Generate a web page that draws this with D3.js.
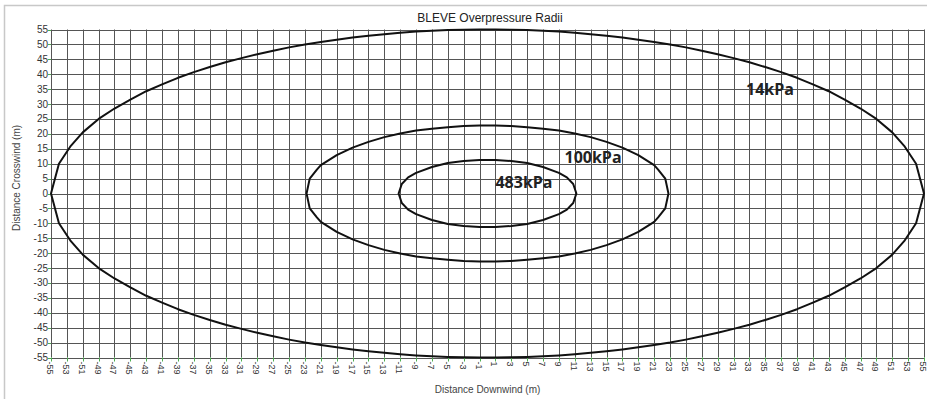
<!DOCTYPE html>
<html>
<head>
<meta charset="utf-8">
<script src="https://cdn.jsdelivr.net/npm/d3@7"></script>
<style>
  body { margin: 0; background: #fff; }
  svg text { font-family: Arial, "Liberation Sans", sans-serif; }
  svg text.clabel { font-family: "Open Sans", sans-serif; font-weight: 700; }
</style>
</head>
<body>
<svg id="chart" width="927" height="399"></svg>
<script>
// upper half of each contour (lower half mirrors it)
const outerX = [-55, -54, -52.5, -51, -49, -47, -45, -43, -41, -39, -37, -35, -33, -31, -29, -27, -25, -23, -21, -19, -17, -15, -13, -11, -9, -7, -5, -3, -1,
                1, 3, 5, 7, 9, 11, 13, 15, 17, 19, 21, 23, 25, 27, 29, 31, 33, 35, 37, 39, 41, 43, 45, 47, 49, 51, 52.5, 54, 55];
const outerY = [0, 10, 16, 20.5, 25, 28.5, 31.5, 34.3, 36.6, 38.8, 40.7, 42.4, 44, 45.4, 46.7, 47.9, 49, 50, 50.8, 51.6, 52.3, 52.9, 53.4, 53.9, 54.3, 54.6, 54.8, 54.9, 55,
                55, 54.9, 54.8, 54.6, 54.3, 53.9, 53.4, 52.9, 52.3, 51.6, 50.8, 50, 49, 47.9, 46.7, 45.4, 44, 42.4, 40.7, 38.8, 36.6, 34.3, 31.5, 28.5, 25, 20.5, 16, 10, 0];

const midX = [-22.8, -22.4, -21.5, -21, -19, -17, -15, -13, -11, -9, -7, -5, -3, -1,
              1, 3, 5, 7, 9, 11, 13, 15, 17, 19, 21, 21.5, 22.4, 22.8];
const midY = [0, 5, 8, 9.5, 12.9, 15.4, 17.3, 18.9, 20.1, 21.1, 21.7, 22.2, 22.6, 22.8,
              22.8, 22.6, 22.2, 21.7, 21.1, 20.1, 18.9, 17.3, 15.4, 12.9, 9.5, 8, 5, 0];

const innerX = [-11.2, -10.8, -10, -9, -7, -5, -3, -1, 1, 3, 5, 7, 9, 10, 10.8, 11.2];
const innerY = [0, 3.2, 5.4, 6.9, 8.9, 10.2, 10.9, 11.2, 11.2, 10.9, 10.2, 8.9, 6.9, 5.4, 3.2, 0];

const contourNames = ["14kPa", "100kPa", "483kPa"];
const labelX = [35.6, 13.3, 4.6];
const labelY = [35.2, 12.1, 4];

const xTicks = d3.range(-55, 56, 2);
const yTicks = d3.range(-55, 56, 5);

const svg = d3.select("#chart");
const plotLeft = 51, plotRight = 924, plotTop = 29.5, plotBottom = 357.5;

const x = d3.scaleLinear().domain([-55, 55]).range([plotLeft, plotRight]);
const y = d3.scaleLinear().domain([-55, 55]).range([plotBottom, plotTop]);

// outer frame
svg.append("path")
  .attr("d", "M4.5,399 V5.5 H927")
  .attr("fill", "none")
  .attr("stroke", "#c8c8c8")
  .attr("stroke-width", 1.5);

// title
svg.append("text")
  .attr("x", 490).attr("y", 22)
  .attr("text-anchor", "middle")
  .attr("font-size", 12)
  .attr("fill", "#222")
  .text("BLEVE Overpressure Radii");

// grid
const grid = svg.append("g").attr("stroke", "#555").attr("stroke-width", 1);
grid.selectAll(".vx").data(xTicks).join("line")
  .attr("x1", d => Math.round(x(d)) + 0.5).attr("x2", d => Math.round(x(d)) + 0.5)
  .attr("y1", plotTop).attr("y2", plotBottom);
grid.selectAll(".hy").data(yTicks).join("line")
  .attr("y1", d => Math.round(y(d)) + 0.5).attr("y2", d => Math.round(y(d)) + 0.5)
  .attr("x1", plotLeft).attr("x2", plotRight);

// ticks
svg.append("g").selectAll("line").data(xTicks).join("line")
  .attr("x1", d => Math.round(x(d)) + 0.5).attr("x2", d => Math.round(x(d)) + 0.5)
  .attr("y1", plotBottom).attr("y2", plotBottom + 4)
  .attr("stroke", "#4caf50");
svg.append("g").selectAll("line").data(yTicks).join("line")
  .attr("y1", d => Math.round(y(d)) + 0.5).attr("y2", d => Math.round(y(d)) + 0.5)
  .attr("x1", plotLeft - 3).attr("x2", plotLeft)
  .attr("stroke", "#4caf50");

// tick labels
svg.append("g").selectAll("text").data(yTicks).join("text")
  .attr("x", plotLeft - 3)
  .attr("y", d => y(d) + 3.5)
  .attr("text-anchor", "end")
  .attr("font-size", 10)
  .attr("fill", "#333")
  .text(d => d);

svg.append("g").selectAll("text").data(xTicks).join("text")
  .attr("transform", d => `translate(${x(d) - 4}, ${plotBottom + 4}) rotate(90)`)
  .attr("text-anchor", "start")
  .attr("font-size", 9)
  .attr("fill", "#333")
  .text(d => d);

// axis titles
svg.append("text")
  .attr("x", (plotLeft + plotRight) / 2).attr("y", 393)
  .attr("text-anchor", "middle")
  .attr("font-size", 10)
  .attr("fill", "#444")
  .text("Distance Downwind (m)");

svg.append("text")
  .attr("transform", "translate(20, 178) rotate(-90)")
  .attr("text-anchor", "middle")
  .attr("font-size", 10)
  .attr("fill", "#444")
  .text("Distance Crosswind (m)");

// contours
const line = d3.line().x(d => x(d[0])).y(d => y(d[1]));
const contours = [[outerX, outerY], [midX, midY], [innerX, innerY]];
contours.forEach(([xs, ys]) => {
  const upper = xs.map((v, i) => [v, ys[i]]);
  const lower = xs.map((v, i) => [v, -ys[i]]).reverse();
  svg.append("path")
    .attr("d", line(upper.concat(lower)) + "Z")
    .attr("fill", "none")
    .attr("stroke", "#111")
    .attr("stroke-width", 2)
    .attr("stroke-linejoin", "round");
});

// contour labels
svg.append("g").selectAll("text").data(contourNames).join("text")
  .attr("class", "clabel")
  .attr("x", (d, i) => x(labelX[i]))
  .attr("y", (d, i) => y(labelY[i]) + 6)
  .attr("text-anchor", "middle")
  .attr("font-size", 16)
  .attr("fill", "#222")
  .text(d => d);
</script>
</body>
</html>
